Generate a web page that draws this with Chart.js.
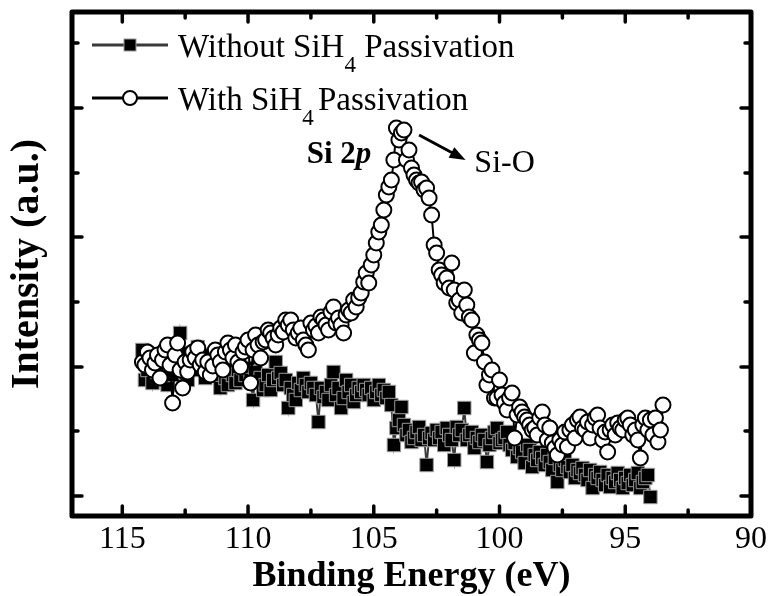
<!DOCTYPE html>
<html>
<head>
<meta charset="utf-8">
<script src="https://cdn.jsdelivr.net/npm/chart.js@4.4.1/dist/chart.umd.min.js"></script>
<style>
  html, body { margin: 0; padding: 0; background: #fff; }
  #wrap { width: 775px; height: 596px; }
</style>
</head>
<body>
<div id="wrap"><canvas id="xps-chart" width="775" height="596"></canvas></div>
<script>
// binding energy grid (eV), both scans start at 114.2 and step down by 0.1
const energyStart = 114.2;
const energyStep = 0.1;

// intensity (a.u.), one value per 0.1 eV from 114.2 eV
const withPassivation = [
  154, 151, 164, 158, 146, 153, 161, 138, 156, 166,
  171, 151, 113, 161, 173, 146, 128, 154, 144, 156,
  164, 158, 168, 151, 156, 144, 154, 141, 150, 166,
  161, 154, 146, 164, 173, 166, 158, 171, 154, 149,
  164, 169, 176, 133, 166, 181, 171, 158, 174, 176,
  186, 183, 178, 171, 181, 188, 184, 196, 191, 196,
  186, 178, 183, 188, 176, 171, 166, 193, 186, 190,
  183, 199, 196, 191, 186, 204, 209, 193, 198, 191,
  183, 201, 206, 203, 216, 209, 218, 223, 234, 243,
  233, 251, 261, 273, 284, 291, 306, 321, 329, 336,
  356, 388, 376, 383, 386, 356, 366, 348, 341, 336,
  333, 334, 326, 328, 318, 301, 271, 263, 246, 241,
  233, 238, 228, 253, 226, 213, 216, 203, 226, 211,
  199, 196, 163, 181, 176, 173, 154, 131, 141, 146,
  118, 118, 136, 121, 113, 106, 118, 123, 78, 101,
  109, 104, 99, 96, 91, 86, 88, 81, 98, 104,
  91, 76, 88, 73, 68, 61, 76, 71, 84, 69,
  86, 91, 78, 96, 99, 88, 86, 94, 78, 91,
  98, 101, 88, 76, 84, 64, 86, 91, 81, 93,
  88, 86, 96, 98, 91, 81, 86, 76, 58, 91,
  98, 86, 96, 81, 98, 74, 86, 111
];

const withoutPassivation = [
  166, 136, 146, 161, 133, 154, 144, 149, 138, 156,
  131, 148, 141, 158, 151, 183, 163, 144, 136, 154,
  146, 161, 169, 156, 161, 138, 151, 144, 148, 141,
  154, 128, 146, 138, 131, 144, 141, 133, 146, 136,
  148, 141, 148, 136, 116, 144, 133, 138, 126, 131,
  141, 126, 136, 154, 138, 143, 131, 136, 108, 128,
  121, 116, 133, 126, 138, 131, 124, 133, 128, 121,
  94, 128, 119, 124, 116, 131, 144, 121, 128, 108,
  118, 136, 124, 131, 114, 121, 128, 124, 131, 126,
  121, 128, 116, 124, 131, 121, 126, 118, 124, 111,
  71, 88, 96, 109, 91, 81, 86, 74, 78, 84,
  89, 76, 81, 51, 78, 83, 76, 86, 78, 84,
  71, 88, 81, 76, 56, 89, 81, 86, 108, 76,
  81, 84, 68, 78, 74, 81, 76, 54, 71, 78,
  84, 88, 73, 76, 78, 84, 71, 66, 73, 59,
  68, 64, 53, 71, 66, 49, 61, 56, 64, 58,
  51, 61, 54, 46, 58, 34, 51, 46, 56, 49,
  44, 51, 38, 46, 43, 48, 41, 36, 46, 28,
  41, 38, 44, 36, 31, 41, 29, 38, 34, 43,
  36, 28, 38, 33, 41, 31, 36, 43, 28, 34,
  38, 41, 19
];

// axes
const xMajorTicks = [115, 110, 105, 100, 95, 90];
const xMinorTicks = [112.5, 107.5, 102.5, 97.5, 92.5];
const yMajorTicks = [20, 149, 279, 408];
const yMinorTicks = [85, 214, 343, 473];

// labels
const seriesNames = ['Without SiH4 Passivation', 'With SiH4 Passivation'];
const SERIF = "'Liberation Serif', 'Times New Roman', serif";

function toPoints(values) {
  return values.map(function(v, i) {
    return { x: +(energyStart - i * energyStep).toFixed(1), y: v };
  });
}

// inward ticks on all four sides + heavy frame
const frameAndTicks = {
  id: 'frameAndTicks',
  afterDraw(chart) {
    const ctx = chart.ctx;
    const a = chart.chartArea;
    const xs = chart.scales.x;
    const ys = chart.scales.y;
    ctx.save();
    ctx.strokeStyle = '#000';
    ctx.lineCap = 'round';
    ctx.lineWidth = 3.5;

    function seg(x1, y1, x2, y2) {
      ctx.beginPath();
      ctx.moveTo(x1, y1);
      ctx.lineTo(x2, y2);
      ctx.stroke();
    }
    function xTick(v, len) {
      const px = xs.getPixelForValue(v);
      seg(px, a.bottom, px, a.bottom - len);
      seg(px, a.top, px, a.top + len);
    }
    function yTick(v, len) {
      const py = ys.getPixelForValue(v);
      seg(a.left, py, a.left + len, py);
      seg(a.right, py, a.right - len, py);
    }
    xMajorTicks.forEach(v => xTick(v, 10));
    xMinorTicks.forEach(v => xTick(v, 6));
    yMajorTicks.forEach(v => yTick(v, 10));
    yMinorTicks.forEach(v => yTick(v, 6));

    ctx.lineWidth = 5;
    ctx.lineJoin = 'round';
    ctx.strokeRect(a.left, a.top, a.right - a.left, a.bottom - a.top);
    ctx.restore();
  }
};

// legend with subscripts, plus the Si 2p / Si-O notes
const notes = {
  id: 'notes',
  afterDraw(chart) {
    const ctx = chart.ctx;
    const xs = chart.scales.x;
    const ys = chart.scales.y;
    const sets = chart.data.datasets;
    ctx.save();
    ctx.fillStyle = '#000';
    ctx.textBaseline = 'alphabetic';

    function label(parts, x, y) {
      parts.forEach(function(p) {
        ctx.font = p.font;
        ctx.fillText(p.t, x, y + (p.dy || 0));
        x += ctx.measureText(p.t).width + (p.gap || 0);
      });
    }

    const rows = [45, 98];
    rows.forEach(function(ry, i) {
      const ds = sets[i];
      ctx.strokeStyle = ds.borderColor;
      ctx.lineWidth = 3;
      ctx.beginPath();
      ctx.moveTo(92, ry);
      ctx.lineTo(168, ry);
      ctx.stroke();
      ctx.lineWidth = ds.pointBorderWidth;
      ctx.strokeStyle = ds.pointBorderColor;
      ctx.fillStyle = ds.pointBackgroundColor;
      if (ds.pointStyle === 'rect') {
        ctx.fillRect(124, ry - 6, 12, 12);
        ctx.strokeRect(124, ry - 6, 12, 12);
      } else {
        ctx.beginPath();
        ctx.arc(130, ry, 7, 0, Math.PI * 2);
        ctx.fill();
        ctx.stroke();
      }
      ctx.fillStyle = '#000';
      const name = seriesNames[i].split('4');
      label([
        { t: name[0], font: '33px ' + SERIF },
        { t: '4', font: '23px ' + SERIF, dy: 15, gap: i === 0 ? 0 : -4 },
        { t: name[1], font: '33px ' + SERIF }
      ], 178, ry + 12);
    });

    // Si 2p
    const sx = xs.getPixelForValue(105.1);
    const sy = ys.getPixelForValue(353);
    ctx.font = 'bold italic 31px ' + SERIF;
    const pW = ctx.measureText('p').width;
    ctx.font = 'bold 31px ' + SERIF;
    const sW = ctx.measureText('Si 2').width;
    label([
      { t: 'Si 2', font: 'bold 31px ' + SERIF },
      { t: 'p', font: 'bold italic 31px ' + SERIF }
    ], sx - sW - pW, sy);

    // Si-O with arrow
    ctx.font = '32px ' + SERIF;
    ctx.fillText('Si-O', xs.getPixelForValue(101.0), ys.getPixelForValue(344));
    const x1 = xs.getPixelForValue(103.2), y1 = ys.getPixelForValue(381);
    const x2 = xs.getPixelForValue(101.35), y2 = ys.getPixelForValue(356);
    const ang = Math.atan2(y2 - y1, x2 - x1);
    ctx.strokeStyle = '#000';
    ctx.lineWidth = 3;
    ctx.beginPath();
    ctx.moveTo(x1, y1);
    ctx.lineTo(x2 - 10 * Math.cos(ang), y2 - 10 * Math.sin(ang));
    ctx.stroke();
    ctx.beginPath();
    ctx.moveTo(x2, y2);
    ctx.lineTo(x2 - 16 * Math.cos(ang) + 6 * Math.sin(ang), y2 - 16 * Math.sin(ang) - 6 * Math.cos(ang));
    ctx.lineTo(x2 - 16 * Math.cos(ang) - 6 * Math.sin(ang), y2 - 16 * Math.sin(ang) + 6 * Math.cos(ang));
    ctx.closePath();
    ctx.fill();
    ctx.restore();
  }
};

function setupChart() {
  new Chart(document.getElementById('xps-chart'), {
    type: 'line',
    data: {
      datasets: [
        {
          label: seriesNames[0],
          data: toPoints(withoutPassivation),
          borderColor: '#3a3a3a',
          borderWidth: 2,
          pointStyle: 'rect',
          pointRadius: 9.5,
          pointBackgroundColor: '#000',
          pointBorderColor: '#9a9a9a',
          pointBorderWidth: 1,
          order: 2
        },
        {
          label: seriesNames[1],
          data: toPoints(withPassivation),
          borderColor: '#000',
          borderWidth: 2,
          pointStyle: 'circle',
          pointRadius: 7.5,
          pointBackgroundColor: '#fff',
          pointBorderColor: '#000',
          pointBorderWidth: 2,
          order: 1
        }
      ]
    },
    options: {
      responsive: false,
      animation: false,
      layout: { padding: { top: 12, right: 19, left: 0, bottom: 0 } },
      elements: { line: { tension: 0 } },
      plugins: {
        legend: { display: false },
        tooltip: { enabled: false }
      },
      scales: {
        x: {
          type: 'linear',
          reverse: true,
          min: 90,
          max: 117,
          grid: { display: false, drawTicks: false },
          border: { display: false },
          afterBuildTicks: axis => { axis.ticks = xMajorTicks.map(v => ({ value: v })); },
          afterFit: axis => { axis.height = 80; },
          ticks: {
            autoSkip: false,
            maxRotation: 0,
            padding: 8,
            color: '#000',
            font: { family: SERIF, size: 32, lineHeight: 1 }
          },
          title: {
            display: true,
            text: 'Binding Energy (eV)',
            color: '#000',
            padding: { top: 1, bottom: 1 },
            font: { family: SERIF, size: 36, weight: 'bold', lineHeight: 1 }
          }
        },
        y: {
          min: 0,
          max: 504,
          grid: { display: false, drawTicks: false },
          border: { display: false },
          afterBuildTicks: axis => { axis.ticks = yMajorTicks.map(v => ({ value: v })); },
          afterFit: axis => { axis.width = 72; },
          ticks: { display: false },
          title: {
            display: true,
            text: 'Intensity (a.u.)',
            color: '#000',
            padding: { top: 8, bottom: 0 },
            font: { family: SERIF, size: 40, weight: 'bold', lineHeight: 1 }
          }
        }
      }
    },
    plugins: [frameAndTicks, notes]
  });
}

setupChart();
</script>
</body>
</html>
